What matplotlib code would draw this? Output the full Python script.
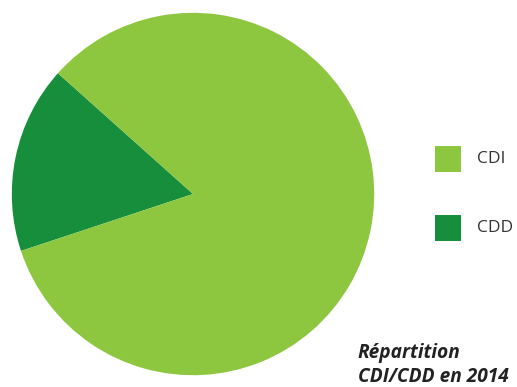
import matplotlib.pyplot as plt
from matplotlib.patches import Rectangle

# Données : répartition CDI / CDD en 2014 (en %)
labels = ['CDI', 'CDD']
values = [83.3, 16.7]
colors = ['#8DC63F', '#178E3C']

W, H = 517, 387
fig = plt.figure(figsize=(W / 100, H / 100), dpi=100)

# axe du camembert : centre (193, 194) px, rayon 183 px
ax = fig.add_axes([10 / W, (H - 194 - 183) / H, 366 / W, 366 / H])
# CDD d'abord pour placer la part à gauche
ax.pie(values[::-1], colors=colors[::-1], startangle=138.2, counterclock=True,
       radius=1, wedgeprops=dict(linewidth=0))
ax.set_xlim(-1.01, 1.01)
ax.set_ylim(-1.01, 1.01)
ax.set_aspect('auto')
ax.axis('off')

# légende manuelle
font = 'Open Sans'
for lab, col, ytop in zip(labels, colors, [146, 215]):
    fig.add_artist(Rectangle((435 / W, (H - ytop - 26) / H), 26 / W, 26 / H,
                             transform=fig.transFigure, facecolor=col, edgecolor='none'))
    fig.text(477 / W, (H - ytop - 13) / H, lab, fontsize=12.5, color='#333333',
             family=font, va='center', ha='left')

fig.text(358 / W, (H - 353) / H, 'Répartition', fontsize=13.8, fontweight='bold',
         style='italic', color='#222222', family=font, va='center', ha='left')
fig.text(358 / W, (H - 377) / H, 'CDI/CDD en 2014', fontsize=13.8, fontweight='bold',
         style='italic', color='#222222', family=font, va='center', ha='left')

fig.savefig('out.png', dpi=100)
